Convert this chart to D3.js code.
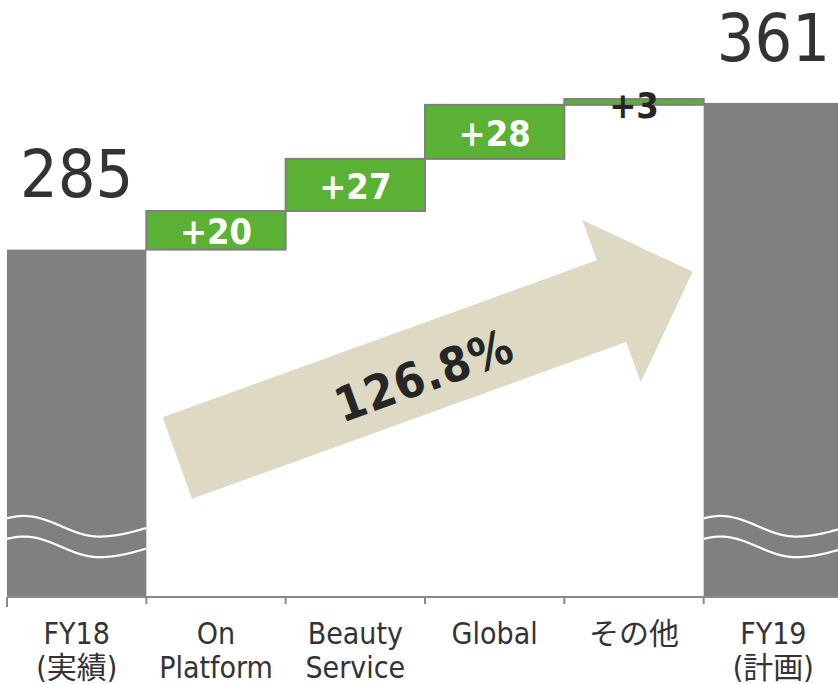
<!DOCTYPE html>
<html>
<head>
<meta charset="utf-8">
<script src="https://cdn.jsdelivr.net/npm/d3@7"></script>
<style>
  html, body { margin: 0; padding: 0; background: #ffffff; }
  svg { display: block; }
  text { font-family: "DejaVu Sans Condensed", "DejaVu Sans", "Noto Sans CJK JP", sans-serif; }
</style>
</head>
<body>
<svg id="chart" width="838" height="684"></svg>
<script>
// Sales bridge FY18 actual -> FY19 plan
const categories = ["FY18", "On Platform", "Beauty Service", "Global", "その他", "FY19"];
const categoryLines = [["FY18", "(実績)"], ["On", "Platform"], ["Beauty", "Service"], ["Global"], ["その他"], ["FY19", "(計画)"]];
const barKinds = ["total", "delta", "delta", "delta", "delta", "total"];
const values = [285, 20, 27, 28, 3, 361];
const valueLabels = ["285", "+20", "+27", "+28", "+3", "361"];
const growthLabel = "126.8%";
const yDomain = [105, 363];      // axis is broken below the visible range
const breakValue = 147;          // where the break marks sit on the total bars

const W = 838, H = 684;
const svg = d3.select("#chart");

const x = d3.scaleBand().domain(categories).range([7, 843]).paddingInner(0).paddingOuter(0);
const y = d3.scaleLinear().domain(yDomain).range([597, 99.06]);
const baseY = y(yDomain[0]);

// build the waterfall segments
let running = 0;
const bars = categories.map((c, i) => {
  let lo, hi;
  if (barKinds[i] === "total") { lo = yDomain[0]; hi = values[i]; running = values[i]; }
  else { lo = running; hi = running + values[i]; running = hi; }
  return { cat: c, kind: barKinds[i], lo, hi, label: valueLabels[i], lines: categoryLines[i] };
});

// growth arrow (drawn behind the bars)
const tail = [x("On Platform") + 31, y(177)];
const tip = [x("FY19") - 11, y(273.5)];
const ang = Math.atan2(tip[1] - tail[1], tip[0] - tail[0]);
const len = Math.hypot(tip[0] - tail[0], tip[1] - tail[1]);
const shaftHalf = 43.4, headHalf = 86.2, headLen = 86.3;
const arrowPts = [
  [0, -shaftHalf], [len - headLen, -shaftHalf], [len - headLen, -headHalf],
  [len, 0], [len - headLen, headHalf], [len - headLen, shaftHalf], [0, shaftHalf]
];
const arrow = svg.append("g")
  .attr("transform", `translate(${tail[0]},${tail[1]}) rotate(${ang * 180 / Math.PI})`);
arrow.append("path")
  .attr("d", d3.line()(arrowPts) + "Z")
  .attr("fill", "#DDD9C3");
arrow.append("text")
  .attr("x", 260).attr("y", 6)
  .attr("text-anchor", "middle")
  .attr("dominant-baseline", "central")
  .attr("font-size", 48).attr("font-weight", "bold")
  .attr("letter-spacing", 1)
  .attr("fill", "#262626")
  .text(growthLabel);

// bars
const barG = svg.append("g");
bars.forEach(b => {
  const x0 = x(b.cat), w = x.bandwidth();
  const top = y(b.hi), bot = y(b.lo);
  if (b.kind === "total") {
    barG.append("rect")
      .attr("x", x0).attr("y", top).attr("width", w).attr("height", bot - top)
      .attr("fill", "#808080");
  } else {
    barG.append("rect")
      .attr("x", x0).attr("y", top).attr("width", w).attr("height", bot - top)
      .attr("fill", "#5AB133").attr("stroke", "#7F7F7F").attr("stroke-width", 2);
  }
});

// break marks on the total bars
const wave = (x0, w, yPeak) => {
  const A = 10.3, p = 0.12 * w, t = 0.66 * w, h2 = 0.76 * w;
  return d3.range(0, w + 0.5, 1).map(dx => {
    let yy;
    if (dx <= t) yy = yPeak + A * (1 - Math.cos(Math.PI * (dx - p) / (t - p)));
    else yy = yPeak + A * (1 + Math.cos(Math.PI * (dx - t) / h2));
    return [x0 + dx, yy];
  });
};
bars.filter(b => b.kind === "total").forEach(b => {
  const x0 = x(b.cat), w = x.bandwidth();
  [0, 20.6].forEach(off => {
    barG.append("path")
      .attr("d", d3.line().curve(d3.curveBasis)(wave(x0, w, y(breakValue) + off)))
      .attr("fill", "none").attr("stroke", "#ffffff").attr("stroke-width", 2.2);
  });
});

// value labels
bars.forEach((b, i) => {
  const cx = x(b.cat) + x.bandwidth() / 2;
  if (b.kind === "total") {
    svg.append("text")
      .attr("x", cx).attr("y", y(b.hi) - (i === 0 ? 53 : 42))
      .attr("text-anchor", "middle")
      .attr("font-size", 66).attr("fill", "#333333")
      .text(b.label);
  } else {
    const mid = (y(b.hi) + y(b.lo)) / 2;
    const small = y(b.lo) - y(b.hi) < 20;
    svg.append("text")
      .attr("x", cx).attr("y", mid + (small ? 16 : 14))
      .attr("text-anchor", "middle")
      .attr("font-size", 36).attr("font-weight", "bold")
      .attr("fill", small ? "#262626" : "#ffffff")
      .text(b.label);
  }
});

// category axis
const axisG = svg.append("g");
axisG.append("line")
  .attr("x1", x.range()[0]).attr("x2", W).attr("y1", baseY).attr("y2", baseY)
  .attr("stroke", "#898989").attr("stroke-width", 2);
categories.forEach((c, i) => {
  axisG.append("line")
    .attr("x1", x(c)).attr("x2", x(c))
    .attr("y1", baseY).attr("y2", baseY + (i === 0 ? 10 : 7))
    .attr("stroke", "#898989").attr("stroke-width", 2);
});
bars.forEach(b => {
  const t = axisG.append("text")
    .attr("x", x(b.cat) + x.bandwidth() / 2)
    .attr("text-anchor", "middle")
    .attr("font-size", 30).attr("fill", "#333333");
  b.lines.forEach((ln, k) => {
    t.append("tspan").attr("x", x(b.cat) + x.bandwidth() / 2)
      .attr("y", baseY + 47 + k * 34).text(ln);
  });
});
</script>
</body>
</html>
